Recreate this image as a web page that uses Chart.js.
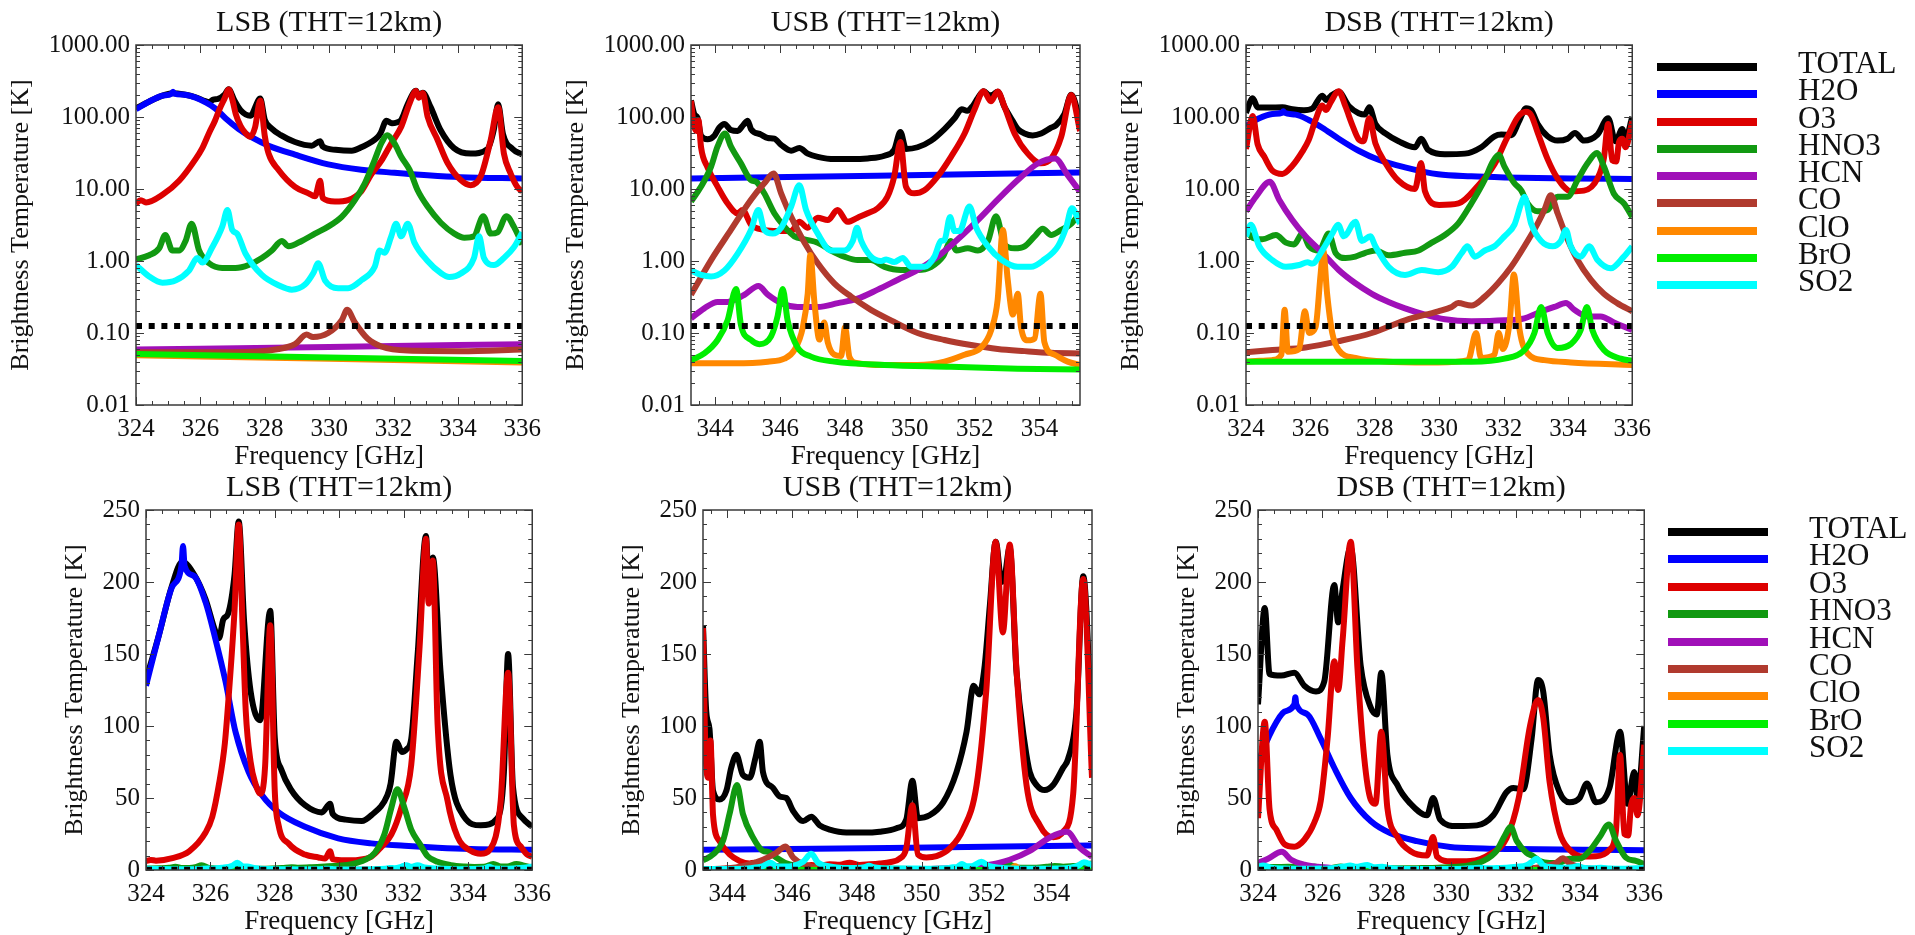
<!DOCTYPE html>
<html>
<head>
<meta charset="utf-8">
<script src="https://cdn.jsdelivr.net/npm/chart.js@4.4.1/dist/chart.umd.min.js"></script>
<style>
  body { margin: 0; background: #fff; width: 1915px; height: 935px; overflow: hidden; position: relative; font-family: 'Liberation Serif', serif; }
  canvas { position: absolute; }
  .sw { position: absolute; width: 100px; height: 8px; }
  .lt { position: absolute; font-size: 31px; line-height: 31px; color: #111; white-space: nowrap; }
</style>
</head>
<body>
<canvas id="lsbLog" width="544" height="473" style="left:6px;top:0px"></canvas>
<canvas id="usbLog" width="544" height="473" style="left:561px;top:0px"></canvas>
<canvas id="dsbLog" width="544" height="473" style="left:1116px;top:0px"></canvas>
<canvas id="lsbLin" width="504" height="473" style="left:56px;top:465px"></canvas>
<canvas id="usbLin" width="504" height="473" style="left:613px;top:465px"></canvas>
<canvas id="dsbLin" width="504" height="473" style="left:1168px;top:465px"></canvas>
<div id="legTop"></div>
<div id="legBot"></div>
<script>
// species and colours
const species = ['TOTAL', 'H2O', 'O3', 'HNO3', 'HCN', 'CO', 'ClO', 'BrO', 'SO2'];
const speciesColors = ['#000000', '#0000ff', '#dd0000', '#119911', '#a010b8', '#b03a2e', '#ff8800', '#00ee00', '#00ffff'];
const noiseLevel = 0.125;

// axis ticks
const lsbTicks = [324, 326, 328, 330, 332, 334, 336];
const usbTicks = [344, 346, 348, 350, 352, 354];
const logTicks = [0.01, 0.1, 1, 10, 100, 1000];
const linTicks = [0, 50, 100, 150, 200, 250];

// ---- LSB  [GHz, K]
const lsbTotal = [[324,132],[324.4,163],[324.8,197],[325.13,214],[325.5,205],[325.85,188],[326.15,166],[326.27,161],[326.4,174],[326.55,178],[326.75,205],[326.88,242],[327.05,172],[327.25,124],[327.55,104],[327.86,180],[328.0,92],[328.2,70],[328.5,56],[328.94,45],[329.46,40],[329.72,46],[329.8,39],[330.2,35],[330.7,34],[331.0,38],[331.5,52],[331.6,60],[331.78,89],[331.95,82],[332.1,84],[332.24,91],[332.44,150],[332.7,232],[332.78,200],[332.91,217],[333.15,138],[333.46,66],[333.88,37],[334.4,31],[334.92,36],[335.12,68],[335.25,150],[335.4,58],[335.7,36],[336,30]];
const lsbH2O = [[324,128],[324.4,163],[324.8,196],[325.1,211],[325.15,225],[325.2,211],[325.5,204],[325.85,186],[326.15,161],[326.47,131],[326.78,96],[327.19,68],[327.6,52],[328.12,40],[328.94,30],[329.97,22],[331.0,18.5],[332.03,16.8],[333.06,15.5],[334.09,14.6],[336,14]];
const lsbO3 = [[324,6.3],[324.15,7],[324.31,6.5],[324.82,8.3],[325.34,13],[325.85,26],[326.06,37],[326.27,60],[326.45,88],[326.6,130],[326.75,180],[326.88,240],[327.0,170],[327.1,110],[327.25,75],[327.4,60],[327.55,53],[327.7,72],[327.86,170],[328.0,55],[328.12,31],[328.43,18.4],[328.94,10.7],[329.36,8.7],[329.56,7.9],[329.72,13],[329.8,7.5],[330.18,6.7],[330.59,7],[331.0,9.3],[331.31,16],[331.62,24.5],[331.93,43],[332.24,73],[332.5,155],[332.7,230],[332.78,185],[332.91,215],[333.06,101],[333.37,48],[333.68,23],[334.09,13.3],[334.4,11.3],[334.71,15],[335.02,48],[335.25,137],[335.43,31],[335.64,16.4],[335.84,10.8],[336,9.2]];
const lsbHNO3 = [[324,1.05],[324.41,1.2],[324.72,1.5],[324.91,2.3],[325.13,1.4],[325.34,1.4],[325.54,1.9],[325.73,3.3],[325.96,1.4],[326.27,0.93],[326.68,0.8],[327.09,0.8],[327.5,0.88],[327.91,1.1],[328.22,1.4],[328.53,1.9],[328.74,1.6],[329.15,1.9],[329.56,2.4],[329.97,3.0],[330.39,4.1],[330.8,7],[331.11,12],[331.41,25],[331.62,43],[331.81,56],[332.03,43],[332.24,28],[332.5,18.4],[332.75,9.6],[333.06,5.7],[333.47,3.4],[333.89,2.4],[334.2,2.1],[334.5,2.2],[334.79,4.2],[335.02,2.4],[335.23,2.5],[335.51,4.2],[335.74,3.0],[336,1.7]];
const lsbHCN = [[324,0.059],[330,0.064],[336,0.070]];
const lsbCO = [[324,0.054],[327,0.054],[328.43,0.06],[328.94,0.07],[329.3,0.095],[329.5,0.088],[329.97,0.1],[330.39,0.15],[330.56,0.21],[330.8,0.14],[331.2,0.083],[331.62,0.065],[332.44,0.057],[334.09,0.056],[336,0.059]];
const lsbClO = [[324,0.049],[330,0.044],[336,0.039]];
const lsbBrO = [[324,0.051],[336,0.041]];
const lsbSO2 = [[324,0.88],[324.41,0.61],[324.82,0.5],[325.24,0.54],[325.65,0.74],[325.91,1.1],[326.06,0.95],[326.37,1.55],[326.68,3.0],[326.84,5.1],[326.99,2.7],[327.14,2.4],[327.4,1.27],[327.91,0.64],[328.43,0.46],[328.84,0.4],[329.25,0.47],[329.51,0.68],[329.66,0.93],[329.87,0.54],[330.28,0.42],[330.59,0.42],[331.0,0.54],[331.42,0.84],[331.57,1.4],[331.72,1.3],[331.93,2.2],[332.08,3.3],[332.24,2.2],[332.44,3.3],[332.65,1.8],[333.06,1.0],[333.47,0.68],[333.73,0.6],[334.09,0.67],[334.5,1.1],[334.66,2.2],[334.81,1.1],[335.12,0.88],[335.43,1.1],[335.74,1.55],[336,2.5]];

// ---- USB
const usbTotal = [[343.25,170],[343.35,110],[343.45,98],[343.56,55],[343.76,49],[343.97,55],[344.12,71],[344.28,80],[344.48,66],[344.69,64],[344.87,78],[345.0,89],[345.1,68],[345.41,57],[345.62,51],[345.82,50],[346.03,41],[346.34,34],[346.59,37],[346.85,31],[347.16,28],[347.67,26],[348.19,26],[348.7,26.6],[349.22,29],[349.52,35],[349.71,62],[349.88,36],[350.24,38],[350.66,47],[351.07,68],[351.38,96],[351.6,128],[351.77,122],[351.94,142],[352.1,184],[352.28,228],[352.46,200],[352.56,204],[352.71,224],[352.92,138],[353.18,87],[353.33,68],[353.54,59],[353.79,55.5],[354.05,59],[354.36,71],[354.51,77],[354.77,110],[354.98,204],[355.25,91]];
const usbH2O = [[343.25,14],[349,15.3],[355.25,17]];
const usbO3 = [[343.25,168],[343.33,80],[343.42,64],[343.48,90],[343.56,38],[343.76,20],[344.07,10.8],[344.38,6.3],[344.69,4.6],[344.84,5.1],[345.1,3.2],[345.51,2.7],[345.92,2.6],[346.34,2.6],[346.59,3.5],[346.85,2.9],[347.16,4.0],[347.47,3.7],[347.77,5.1],[348.08,3.5],[348.39,4.0],[348.7,4.6],[349.01,5.4],[349.31,7.8],[349.52,15],[349.71,45],[349.88,10.8],[350.14,8.7],[350.45,9.6],[350.86,15],[351.27,28],[351.69,59],[351.99,125],[352.28,228],[352.5,165],[352.71,226],[352.92,139],[353.23,59],[353.64,31],[354.05,22.7],[354.36,26.5],[354.67,53],[354.98,202],[355.25,64]];
const usbHNO3 = [[343.25,6.7],[343.56,10.8],[343.87,20.5],[344.07,39],[344.3,59],[344.48,39],[344.79,22.7],[345.1,13.3],[345.26,12.6],[345.51,8.7],[345.82,4.6],[346.13,3.0],[346.44,2.2],[346.75,2.0],[347.16,1.8],[347.57,1.4],[347.98,1.15],[348.39,1.03],[348.8,1.03],[349.22,0.83],[349.73,0.75],[350.24,0.75],[350.66,0.83],[351.02,1.15],[351.27,1.9],[351.43,1.4],[351.79,1.5],[352.1,1.4],[352.41,1.9],[352.66,4.2],[352.92,1.7],[353.23,1.5],[353.54,1.6],[353.85,2.2],[354.1,2.8],[354.36,2.3],[354.67,2.7],[354.98,3.3],[355.25,4.6]];
const usbHCN = [[343.25,0.16],[343.66,0.22],[344.07,0.27],[344.38,0.27],[344.9,0.34],[345.33,0.45],[345.62,0.34],[346.03,0.26],[346.54,0.23],[347.16,0.23],[347.78,0.26],[348.39,0.3],[349.01,0.4],[349.63,0.55],[350.24,0.75],[350.86,1.15],[351.48,2.0],[352.1,3.7],[352.71,7.1],[353.33,13.3],[353.95,22.6],[354.48,26.5],[354.87,15.6],[355.25,9.2]];
const usbCO = [[343.25,0.34],[343.87,1.03],[344.48,2.7],[345.1,7.1],[345.51,12],[345.8,16.4],[346.03,8.7],[346.34,4.1],[346.75,1.8],[347.16,0.93],[347.67,0.49],[348.19,0.32],[348.8,0.21],[349.42,0.15],[350.24,0.1],[351.07,0.08],[351.89,0.068],[352.71,0.06],[353.54,0.056],[354.36,0.053],[355.25,0.052]];
const usbClO = [[343.25,0.038],[344.59,0.038],[345.62,0.04],[346.13,0.044],[346.44,0.058],[346.7,0.12],[346.85,0.35],[346.93,1.21],[347.06,0.26],[347.21,0.081],[347.36,0.14],[347.47,0.074],[347.67,0.05],[347.88,0.048],[348.0,0.12],[348.14,0.046],[348.39,0.038],[349.22,0.036],[350.24,0.036],[351.07,0.04],[351.69,0.05],[352.2,0.063],[352.51,0.11],[352.71,0.29],[352.87,2.7],[353.02,0.55],[353.18,0.18],[353.33,0.35],[353.43,0.12],[353.64,0.079],[353.85,0.084],[354.03,0.35],[354.15,0.075],[354.46,0.05],[354.87,0.04],[355.25,0.036]];
const usbBrO = [[343.25,0.042],[343.66,0.052],[344.07,0.08],[344.38,0.15],[344.64,0.41],[344.79,0.13],[345.1,0.08],[345.36,0.07],[345.72,0.09],[345.92,0.17],[346.08,0.41],[346.23,0.15],[346.54,0.063],[346.95,0.047],[347.67,0.04],[349.22,0.036],[351.27,0.034],[353.33,0.032],[355.25,0.031]];
const usbSO2 = [[343.25,0.74],[343.56,0.64],[343.87,0.61],[344.28,0.74],[344.69,1.27],[345.1,2.7],[345.33,5.1],[345.51,2.7],[345.77,2.4],[346.03,2.9],[346.34,5.7],[346.59,11.3],[346.8,5.1],[347.16,2.4],[347.57,1.4],[347.98,1.4],[348.24,1.9],[348.37,2.9],[348.5,1.9],[348.8,1.15],[349.11,1.0],[349.27,1.05],[349.52,0.97],[349.78,1.1],[350.04,0.83],[350.45,0.83],[350.76,1.15],[350.96,1.9],[351.07,1.95],[351.24,4.1],[351.38,2.6],[351.53,2.6],[351.84,5.7],[352.05,2.9],[352.41,1.6],[352.82,1.05],[353.33,0.83],[353.74,0.83],[354.15,1.05],[354.57,1.6],[354.82,2.9],[355.0,5.4],[355.25,3.3]];

// ---- DSB
const dsbTotal = [[324,115],[324.21,182],[324.36,136],[324.72,135],[325.13,137],[325.44,128],[325.8,124],[326.06,131],[326.37,198],[326.49,172],[326.63,195],[326.88,224],[327.19,142],[327.5,113],[327.69,108],[327.83,137],[328.02,80],[328.33,59],[328.74,46],[329.25,38],[329.44,50],[329.66,35],[330.18,30.5],[330.8,31],[331.31,38],[331.72,54],[331.93,57],[332.24,56],[332.5,91],[332.7,132],[332.86,124],[333.06,80],[333.37,54],[333.68,47],[333.99,50],[334.22,60],[334.5,47],[334.92,57],[335.25,96],[335.48,46],[335.69,68],[335.79,50],[336,100]];
const dsbH2O = [[324,75],[324.41,96],[324.82,110],[325.13,115],[325.16,120],[325.19,115],[325.54,108],[325.95,91],[326.37,71],[326.88,50],[327.5,34],[328.12,25.5],[328.94,20],[329.97,16],[331.0,15],[332.03,14.5],[334.09,14],[336,13.8]];
const dsbO3 = [[324,36],[324.21,103],[324.36,42],[324.57,28],[324.82,18],[325.13,16.2],[325.44,21],[325.75,33],[325.95,48],[326.16,91],[326.37,145],[326.49,125],[326.63,160],[326.88,228],[327.09,140],[327.3,78],[327.5,49],[327.65,46],[327.83,96],[328.02,43],[328.33,23],[328.74,13],[329.25,10],[329.44,23],[329.56,9.3],[330.0,6],[330.6,6.3],[331.2,11],[331.72,22],[332.1,50],[332.45,100],[332.7,118],[332.86,106],[333.06,61],[333.37,26],[333.68,14],[334.1,9.3],[334.5,9.5],[334.92,14],[335.12,27],[335.25,80],[335.38,25],[335.5,24],[335.59,45],[335.69,50],[335.79,38],[336,87]];
const dsbHNO3 = [[324,2.7],[324.21,2.1],[324.51,2.0],[324.93,2.3],[325.24,1.8],[325.49,1.7],[325.75,2.4],[325.96,1.6],[326.27,1.4],[326.57,2.4],[326.78,1.3],[327.09,1.1],[327.4,1.15],[327.71,1.3],[328.02,1.4],[328.43,1.2],[328.94,1.3],[329.36,1.4],[329.77,1.8],[330.18,2.3],[330.59,3.3],[331.0,6.3],[331.41,13.3],[331.67,24],[331.85,30],[332.03,20.5],[332.34,12],[332.55,9.6],[332.75,6.3],[333.06,4.9],[333.37,5.1],[333.68,7.8],[333.99,7.8],[334.3,13.3],[334.61,22.7],[334.9,31.6],[335.12,20.5],[335.43,8.6],[335.74,6.3],[336,4.1]];
const dsbHCN = [[324,4.9],[324.31,7.8],[324.74,12.6],[325.03,7.1],[325.44,3.7],[325.85,2.2],[326.37,1.3],[326.88,0.75],[327.4,0.49],[327.91,0.35],[328.43,0.27],[328.94,0.22],[329.56,0.18],[330.18,0.155],[331.0,0.146],[332.03,0.15],[332.65,0.16],[333.06,0.19],[333.58,0.23],[333.94,0.26],[334.2,0.21],[334.61,0.17],[335.02,0.17],[335.43,0.14],[336,0.11]];
const dsbCO = [[324,0.054],[324.82,0.058],[325.85,0.063],[326.88,0.077],[327.91,0.1],[328.94,0.15],[329.97,0.2],[330.39,0.23],[330.59,0.26],[331.0,0.24],[331.42,0.32],[331.83,0.49],[332.24,0.83],[332.65,1.6],[333.06,3.3],[333.27,5.1],[333.47,8.2],[333.68,4.6],[333.99,2.0],[334.3,1.03],[334.71,0.55],[335.12,0.35],[335.53,0.26],[336,0.2]];
const dsbClO = [[324,0.04],[324.8,0.042],[325.1,0.05],[325.2,0.21],[325.3,0.055],[325.65,0.06],[325.83,0.2],[325.96,0.1],[326.16,0.12],[326.32,0.67],[326.4,1.4],[326.52,0.35],[326.68,0.1],[326.88,0.058],[327.4,0.045],[328.43,0.04],[329.97,0.039],[330.9,0.042],[331.15,0.1],[331.3,0.045],[331.72,0.05],[331.85,0.1],[331.98,0.06],[332.19,0.14],[332.32,0.65],[332.5,0.11],[332.75,0.052],[333.27,0.042],[334.09,0.039],[336,0.036]];
const dsbBrO = [[324,0.04],[331.0,0.04],[332.03,0.044],[332.65,0.058],[332.96,0.1],[333.17,0.23],[333.37,0.1],[333.68,0.062],[334.09,0.07],[334.4,0.11],[334.59,0.23],[334.76,0.11],[335.12,0.058],[335.64,0.044],[336,0.041]];
const dsbSO2 = [[324,2.2],[324.15,3.2],[324.41,1.6],[324.82,1.03],[325.24,0.83],[325.65,0.88],[325.91,0.96],[326.06,0.92],[326.37,1.4],[326.68,2.4],[326.86,3.2],[327.04,2.2],[327.4,3.5],[327.6,1.9],[327.86,2.2],[328.02,1.6],[328.43,0.83],[328.94,0.64],[329.46,0.75],[329.97,0.7],[330.39,0.83],[330.69,1.27],[330.88,1.6],[331.11,1.15],[331.42,1.4],[331.72,1.6],[332.03,2.2],[332.34,3.2],[332.55,6.3],[332.65,7.8],[332.86,3.3],[333.17,1.9],[333.53,1.6],[333.78,1.9],[333.94,2.7],[334.09,1.6],[334.4,1.15],[334.66,1.6],[334.92,1.03],[335.33,0.79],[335.74,1.15],[336,1.6]];

const lsbSeries = [lsbTotal, lsbH2O, lsbO3, lsbHNO3, lsbHCN, lsbCO, lsbClO, lsbBrO, lsbSO2];
const usbSeries = [usbTotal, usbH2O, usbO3, usbHNO3, usbHCN, usbCO, usbClO, usbBrO, usbSO2];
const dsbSeries = [dsbTotal, dsbH2O, dsbO3, dsbHNO3, dsbHCN, dsbCO, dsbClO, dsbBrO, dsbSO2];

const serif = "'Liberation Serif', serif";
Chart.defaults.font.family = serif;
Chart.defaults.color = '#111';

// inward ticks on all four sides + frame, like the IDL plot box
const frameTicks = {
  id: 'frameTicks',
  afterDatasetsDraw(chart) {
    const {ctx, chartArea: a} = chart;
    const x = chart.scales.x, y = chart.scales.y;
    ctx.save();
    ctx.strokeStyle = '#3a3a3a';
    ctx.lineWidth = 1;
    ctx.beginPath();
    for (let v = Math.ceil(x.min * 2) / 2; v <= x.max + 1e-6; v += 0.5) {
      const p = Math.round(x.getPixelForValue(v)) + 0.5;
      const len = Math.abs(v % 2) < 1e-6 ? 8 : 4;
      ctx.moveTo(p, a.bottom); ctx.lineTo(p, a.bottom - len);
      ctx.moveTo(p, a.top); ctx.lineTo(p, a.top + len);
    }
    const yv = [];
    if (y.type === 'logarithmic') {
      for (let d = -2; d <= 3; d++) {
        for (let m = 1; m <= 9; m++) {
          const v = m * Math.pow(10, d);
          if (v <= y.max * 1.0001) yv.push([v, m === 1]);
        }
      }
    } else {
      for (let v = 0; v <= y.max; v += 10) yv.push([v, v % 50 === 0]);
    }
    yv.forEach(([v, major]) => {
      const p = Math.round(y.getPixelForValue(v)) + 0.5;
      const len = major ? 8 : 4;
      ctx.moveTo(a.left, p); ctx.lineTo(a.left + len, p);
      ctx.moveTo(a.right, p); ctx.lineTo(a.right - len, p);
    });
    ctx.stroke();
    ctx.lineWidth = 1.5;
    ctx.strokeRect(a.left, a.top, a.width, a.height);
    ctx.restore();
  }
};

function makePanel(id, title, series, xMin, xMax, xTicks, logY) {
  const axisW = logY ? 130 : 90;
  const datasets = series.map((d, i) => ({
    label: species[i],
    data: d,
    borderColor: speciesColors[i],
    borderWidth: 6,
    pointRadius: 0,
    cubicInterpolationMode: 'monotone',
    borderJoinStyle: 'round',
    order: 20 - i
  }));
  datasets.push({
    label: 'noise',
    data: [[xMin, noiseLevel], [xMax, noiseLevel]],
    borderColor: '#000',
    borderWidth: 6,
    borderDash: [6, 6.7],
    pointRadius: 0,
    order: 0
  });
  new Chart(document.getElementById(id), {
    type: 'line',
    data: { datasets },
    options: {
      responsive: false,
      animation: false,
      layout: { padding: { left: 0, top: 0, right: 25, bottom: 0 } },
      plugins: {
        legend: { display: false },
        tooltip: { enabled: false },
        title: {
          display: true, text: title, fullSize: false,
          font: { family: serif, size: 30, weight: 'normal' }, color: '#111',
          padding: { top: 5, bottom: 4 }
        }
      },
      scales: {
        x: {
          type: 'linear', min: xMin, max: xMax,
          afterBuildTicks: s => { s.ticks = xTicks.map(v => ({ value: v })); },
          afterFit: s => { s.height = 68; },
          grid: { display: false, drawTicks: false },
          border: { display: false },
          ticks: { font: { family: serif, size: 25 }, color: '#111', padding: 9, maxRotation: 0, autoSkip: false, callback: v => String(v) },
          title: { display: true, text: 'Frequency [GHz]', color: '#111', font: { family: serif, size: 27 }, padding: { top: 0, bottom: 0 } }
        },
        y: {
          type: logY ? 'logarithmic' : 'linear',
          min: logY ? 0.01 : 0, max: logY ? 1000 : 250,
          afterBuildTicks: s => { s.ticks = (logY ? logTicks : linTicks).map(v => ({ value: v })); },
          afterFit: s => { s.width = axisW; },
          grid: { display: false, drawTicks: false },
          border: { display: false },
          ticks: { font: { family: serif, size: 25 }, color: '#111', padding: 6, autoSkip: false, callback: v => logY ? Number(v).toFixed(2) : String(v) },
          title: { display: true, text: 'Brightness Temperature [K]', color: '#111', font: { family: serif, size: 26 }, padding: { top: logY ? 0 : 4, bottom: 0 } }
        }
      }
    },
    plugins: [frameTicks]
  });
}

makePanel('lsbLog', 'LSB (THT=12km)', lsbSeries, 324, 336, lsbTicks, true);
makePanel('usbLog', 'USB (THT=12km)', usbSeries, 343.25, 355.25, usbTicks, true);
makePanel('dsbLog', 'DSB (THT=12km)', dsbSeries, 324, 336, lsbTicks, true);
makePanel('lsbLin', 'LSB (THT=12km)', lsbSeries, 324, 336, lsbTicks, false);
makePanel('usbLin', 'USB (THT=12km)', usbSeries, 343.25, 355.25, usbTicks, false);
makePanel('dsbLin', 'DSB (THT=12km)', dsbSeries, 324, 336, lsbTicks, false);

// legends (HTML, to the right of the DSB panels)
function makeLegend(hostId, lineLeft, textLeft, firstRow, rowStep) {
  const host = document.getElementById(hostId);
  species.forEach((name, i) => {
    const rowY = firstRow + rowStep * i;
    const sw = document.createElement('div');
    sw.className = 'sw';
    sw.style.left = lineLeft + 'px';
    sw.style.top = (rowY - 4) + 'px';
    sw.style.background = speciesColors[i];
    host.appendChild(sw);
    const t = document.createElement('div');
    t.className = 'lt';
    t.style.left = textLeft + 'px';
    t.style.top = (rowY - 20) + 'px';
    t.textContent = name;
    host.appendChild(t);
  });
}
makeLegend('legTop', 1657, 1798, 67, 27.25);
makeLegend('legBot', 1668, 1809, 532, 27.4);
</script>
</body>
</html>
